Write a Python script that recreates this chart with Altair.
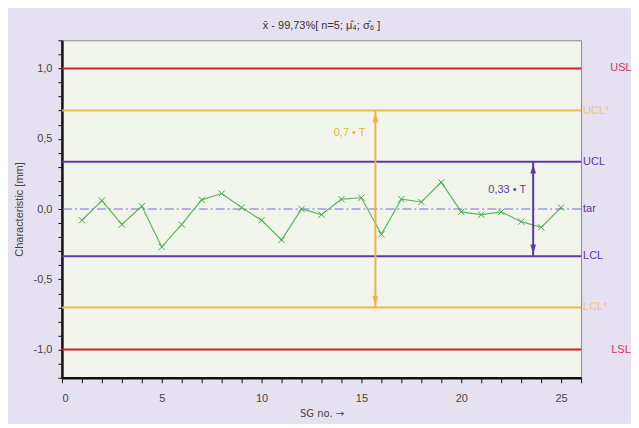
import altair as alt
import pandas as pd

# ---- data ----
sg = list(range(1, 26))
xbar = [-0.08, 0.06, -0.11, 0.02, -0.27, -0.11, 0.065, 0.11, 0.01, -0.08,
        -0.22, 0.0, -0.04, 0.07, 0.08, -0.18, 0.07, 0.05, 0.19, -0.02,
        -0.04, -0.02, -0.09, -0.13, 0.01]

limit_names = ["USL", "UCL*", "UCL", "tar", "LCL", "LCL*", "LSL"]
limit_values = [1.0, 0.7, 0.336, 0.0, -0.336, -0.7, -1.0]
limit_colors = ["#c8202a", "#f2b650", "#5b3aa8", "#7a6cc4", "#5b3aa8", "#f2b650", "#c8202a"]
label_colors = ["#d2305a", "#f5c47a", "#5b3aa8", "#4a3a90", "#5b3aa8", "#f5c47a", "#d2305a"]
label_x = [28.0, 26.1, 26.1, 26.1, 26.1, 26.1, 28.0]
label_align = ["center", "left", "left", "left", "left", "left", "center"]

y_ticks = [round(-1.2 + 0.1 * i, 1) for i in range(25)]
x_ticks = list(range(0, 27))

arrow_names = ["0,7 • T", "0,33 • T"]
arrow_x = [15.7, 23.6]
arrow_top = [0.7, 0.336]
arrow_bottom = [-0.7, -0.336]
arrow_colors = ["#f2b040", "#5b3aa8"]
arrow_label_x = [15.2, 22.3]
arrow_label_y = [0.54, 0.135]
arrow_label_align = ["right", "center"]

# ---- frames ----
df = pd.DataFrame({"sg": sg, "xbar": xbar})
lim = pd.DataFrame({"name": limit_names, "v": limit_values, "c": limit_colors,
                    "lc": label_colors, "lx": label_x, "al": label_align})
arr = pd.DataFrame({"name": arrow_names, "x": arrow_x, "top": arrow_top,
                    "bottom": arrow_bottom, "c": arrow_colors,
                    "lx": arrow_label_x, "ly": arrow_label_y, "al": arrow_label_align})

xs = alt.Scale(domain=[0, 26], nice=False, zero=False)
ys = alt.Scale(domain=[-1.2, 1.2], nice=False, zero=False)

xaxis = alt.Axis(values=x_ticks, title="SG no. \u2192",
                 labelExpr="datum.value % 5 == 0 ? datum.label : ''",
                 grid=False, tickSize=5, labelPadding=10, titlePadding=5,
                 titleFont="DejaVu Sans", titleFontSize=10,
                 domainWidth=2.5, domainColor="#111111", tickColor="#111111")
yaxis = alt.Axis(values=y_ticks, title="Characteristic [mm]",
                 labelExpr="abs(round(datum.value*10)) % 5 == 0 ? (datum.value < -0.01 ? '-' : '') + replace(format(abs(datum.value), '.1f'), '.', ',') : ''",
                 grid=False, tickSize=4, labelPadding=6, titlePadding=9,
                 domainWidth=2.5, domainColor="#111111", tickColor="#111111")


def X(f):
    return alt.X(f, scale=xs, axis=xaxis)


def Y(f):
    return alt.Y(f, scale=ys, axis=yaxis)


lines = alt.Chart(lim).transform_filter("datum.name != 'tar'").mark_rule(strokeWidth=2).encode(
    y=Y("v:Q"),
    color=alt.Color("c:N", scale=None),
)
tar = alt.Chart(lim).transform_filter("datum.name == 'tar'").mark_rule(
    strokeWidth=1.2, strokeDash=[9, 3, 2, 3]).encode(
    y=Y("v:Q"),
    color=alt.Color("c:N", scale=None),
)

series_line = alt.Chart(df).mark_line(color="#5cb860", strokeWidth=1.2).encode(
    x=X("sg:Q"), y=Y("xbar:Q"))
series_pts = alt.Chart(df).mark_point(shape="M-1,-1L1,1M-1,1L1,-1", color="#4aa850",
                                      size=40, strokeWidth=1, opacity=1).encode(
    x=X("sg:Q"), y=Y("xbar:Q"))

arrow_rule = alt.Chart(arr).mark_rule(strokeWidth=2).encode(
    x=X("x:Q"), y=Y("top:Q"), y2="bottom:Q",
    color=alt.Color("c:N", scale=None))
arrow_up = alt.Chart(arr).mark_point(shape="M0,-1L0.6,1L-0.6,1Z", filled=True, size=90,
                                     opacity=1, yOffset=7).encode(
    x=X("x:Q"), y=Y("top:Q"),
    color=alt.Color("c:N", scale=None))
arrow_down = alt.Chart(arr).mark_point(shape="M0,1L0.6,-1L-0.6,-1Z", filled=True, size=90,
                                       opacity=1, yOffset=-7).encode(
    x=X("x:Q"), y=Y("bottom:Q"),
    color=alt.Color("c:N", scale=None))
arrow_text = alt.Chart(arr).mark_text(fontSize=11, baseline="middle").encode(
    x=X("lx:Q"), y=Y("ly:Q"),
    text="name:N", color=alt.Color("c:N", scale=None))
arrow_text_r = arrow_text.transform_filter("datum.al == 'right'").mark_text(
    fontSize=11, baseline="middle", align="right")
arrow_text_c = arrow_text.transform_filter("datum.al == 'center'").mark_text(
    fontSize=11, baseline="middle", align="center")

lab_left = alt.Chart(lim).transform_filter("datum.al == 'left'").mark_text(
    fontSize=11, baseline="middle", align="left").encode(
    x=X("lx:Q"), y=Y("v:Q"),
    text="name:N", color=alt.Color("lc:N", scale=None))
lab_center = alt.Chart(lim).transform_filter("datum.al == 'center'").mark_text(
    fontSize=11, baseline="middle", align="center").encode(
    x=X("lx:Q"), y=Y("v:Q"),
    text="name:N", color=alt.Color("lc:N", scale=None))

chart = alt.layer(
    series_line, lines, tar, series_pts, arrow_rule, arrow_up, arrow_down,
    arrow_text_r, arrow_text_c, lab_left, lab_center,
).properties(
    width=520, height=338,
    title=alt.Title("x\u0304 -  99,73%[ n=5; \u03bc\u0302\u2084; \u03c3\u0302\u2086 ]",
                    fontSize=11, fontWeight="normal", color="#333333", offset=9,
                    anchor="middle"),
    padding={"left": 54, "top": 32, "right": 50, "bottom": 46},
    autosize=alt.AutoSizeParams(type="none"),
    background="#e6e1f0",
).configure_view(
    fill="#f1f4ea", stroke="#888888", strokeWidth=1,
).configure_axis(
    labelFont="Liberation Sans", titleFont="Liberation Sans",
    labelFontSize=11, titleFontSize=11, labelColor="#444444", titleColor="#444444",
    titleFontWeight="normal",
).configure_text(font="Liberation Sans").configure_title(font="Liberation Sans")

chart.save("out.html", embed_options={"renderer": "svg", "actions": False})
